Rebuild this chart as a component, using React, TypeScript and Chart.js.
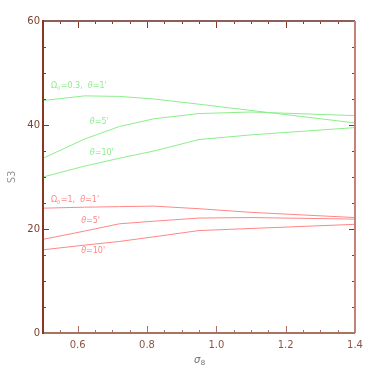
import React, { useEffect, useRef } from "react";
import { Chart, registerables } from "chart.js";

Chart.register(...registerables);

const SIGMA8 = [0.5, 0.62, 0.72, 0.82, 0.95, 1.1, 1.4];
const GREEN_T1 = [44.7, 45.6, 45.5, 45.0, 44.0, 42.8, 40.4];
const GREEN_T5 = [33.6, 37.3, 39.7, 41.2, 42.2, 42.5, 41.8];
const GREEN_T10 = [30.0, 32.1, 33.6, 35.0, 37.2, 38.1, 39.5];
const RED_T1 = [24.0, 24.2, 24.3, 24.4, 23.9, 23.2, 22.2];
const RED_T5 = [18.0, 19.6, 21.0, 21.5, 22.1, 22.2, 21.9];
const RED_T10 = [16.0, 16.9, 17.6, 18.5, 19.7, 20.1, 20.9];

const X_TICKS = [0.6, 0.8, 1.0, 1.2, 1.4];
const Y_TICKS = [0, 20, 40, 60];

const GREEN = "rgb(140,238,140)";
const RED = "rgb(255,135,135)";
const AXIS_LEFT = "rgb(135,55,35)";
const AXIS_BOTTOM = "rgb(170,115,95)";
const AXIS_TOP = "rgb(140,95,95)";
const AXIS_RIGHT = "rgb(195,130,120)";
const TICK_TEXT = "rgb(125,65,50)";

const LABELS: { x: number; y: number; omega: string | null; theta: string; color: string }[] = [
  { x: 0.523, y: 47.6, omega: "0.3", theta: "1'", color: GREEN },
  { x: 0.635, y: 40.6, omega: null, theta: "5'", color: GREEN },
  { x: 0.635, y: 34.6, omega: null, theta: "10'", color: GREEN },
  { x: 0.523, y: 25.6, omega: "1", theta: "1'", color: RED },
  { x: 0.61, y: 21.5, omega: null, theta: "5'", color: RED },
  { x: 0.61, y: 15.7, omega: null, theta: "10'", color: RED },
];

const mk = (ys: number[], color: string) => ({
  data: SIGMA8.map((x, i) => ({ x, y: ys[i] })),
  borderColor: color,
  borderWidth: 1,
  pointRadius: 0,
  fill: false,
  tension: 0,
});

const framePlugin = {
  id: "idlFrame",
  afterDraw(chart: any) {
    const { ctx, chartArea: a, scales } = chart;
    const xs = scales.x;
    const ys = scales.y;
    ctx.save();
    ctx.lineWidth = 1;
    for (let v = 0.5; v <= 1.4001; v += 0.05) {
      const r = Math.round(v * 100) / 100;
      const major = Math.abs(r * 5 - Math.round(r * 5)) < 1e-6;
      const len = major ? 7 : 3;
      const px = Math.round(xs.getPixelForValue(r)) + 0.5;
      ctx.strokeStyle = AXIS_BOTTOM;
      ctx.beginPath();
      ctx.moveTo(px, a.bottom);
      ctx.lineTo(px, a.bottom - len);
      ctx.stroke();
      ctx.strokeStyle = AXIS_LEFT;
      ctx.beginPath();
      ctx.moveTo(px, a.top);
      ctx.lineTo(px, a.top + len);
      ctx.stroke();
    }
    for (let v = 0; v <= 60; v += 5) {
      const major = v % 20 === 0;
      const len = major ? 6 : 3;
      const py = Math.round(ys.getPixelForValue(v)) + 0.5;
      ctx.strokeStyle = AXIS_LEFT;
      ctx.beginPath();
      ctx.moveTo(a.left, py);
      ctx.lineTo(a.left + len, py);
      ctx.moveTo(a.right, py);
      ctx.lineTo(a.right - len, py);
      ctx.stroke();
    }
    ctx.lineWidth = 2;
    const seg = (c: string, x1: number, y1: number, x2: number, y2: number) => {
      ctx.strokeStyle = c;
      ctx.beginPath();
      ctx.moveTo(x1, y1);
      ctx.lineTo(x2, y2);
      ctx.stroke();
    };
    seg(AXIS_TOP, a.left, a.top, a.right, a.top);
    seg(AXIS_RIGHT, a.right, a.top, a.right, a.bottom);
    seg(AXIS_BOTTOM, a.left, a.bottom, a.right, a.bottom);
    seg(AXIS_LEFT, a.left, a.top - 1, a.left, a.bottom + 1);

    ctx.textBaseline = "middle";
    ctx.textAlign = "left";
    for (const l of LABELS) {
      let px = xs.getPixelForValue(l.x);
      const py = ys.getPixelForValue(l.y);
      ctx.fillStyle = l.color;
      const base = "8px 'DejaVu Sans'";
      if (l.omega !== null) {
        ctx.font = base;
        ctx.fillText("\u03A9", px, py);
        px += ctx.measureText("\u03A9").width;
        ctx.font = "5px 'DejaVu Sans'";
        ctx.fillText("0", px, py + 3);
        px += ctx.measureText("0").width + 0.5;
        ctx.font = base;
        const t = "=" + l.omega + ",  ";
        ctx.fillText(t, px, py);
        px += ctx.measureText(t).width;
      }
      ctx.font = "italic 8px 'DejaVu Sans'";
      ctx.fillText("\u03B8", px, py);
      px += ctx.measureText("\u03B8").width;
      ctx.font = base;
      ctx.fillText("=" + l.theta, px, py);
    }

    ctx.fillStyle = "rgb(110,110,110)";
    ctx.font = "italic 10px 'DejaVu Sans'";
    ctx.textAlign = "left";
    const cx = (a.left + a.right) / 2 - 5;
    ctx.fillText("\u03C3", cx, 360);
    const w = ctx.measureText("\u03C3").width;
    ctx.font = "7px 'DejaVu Sans'";
    ctx.fillText("8", cx + w + 0.5, 363);

    ctx.fillStyle = "rgb(150,150,150)";
    ctx.font = "10px 'DejaVu Sans'";
    ctx.textAlign = "center";
    ctx.translate(12, (a.top + a.bottom) / 2);
    ctx.rotate(-Math.PI / 2);
    ctx.fillText("S3", 0, 0);
    ctx.restore();
  },
};

export default function App() {
  const ref = useRef<HTMLCanvasElement | null>(null);
  useEffect(() => {
    if (!ref.current) return;
    const chart = new Chart(ref.current, {
      type: "line",
      data: {
        datasets: [
          mk(GREEN_T1, GREEN),
          mk(GREEN_T5, GREEN),
          mk(GREEN_T10, GREEN),
          mk(RED_T1, RED),
          mk(RED_T5, RED),
          mk(RED_T10, RED),
        ],
      },
      options: {
        animation: false,
        responsive: false,
        layout: { padding: { top: 21, right: 19, left: 0, bottom: 0 } },
        plugins: { legend: { display: false }, tooltip: { enabled: false } },
        scales: {
          x: {
            type: "linear",
            min: 0.5,
            max: 1.4,
            grid: { display: false, drawTicks: false },
            border: { display: false },
            afterBuildTicks: (s: any) => {
              s.ticks = X_TICKS.map((v) => ({ value: v }));
            },
            afterFit: (s: any) => {
              s.height = 41;
            },
            ticks: {
              color: "rgb(140,85,70)",
              font: { family: "'DejaVu Sans'", size: 10 },
              padding: 6,
              maxRotation: 0,
              callback: (v: any) => Number(v).toFixed(1),
            },
          },
          y: {
            min: 0,
            max: 60,
            grid: { display: false, drawTicks: false },
            border: { display: false },
            afterBuildTicks: (s: any) => {
              s.ticks = Y_TICKS.map((v) => ({ value: v }));
            },
            afterFit: (s: any) => {
              s.width = 43;
            },
            ticks: {
              color: TICK_TEXT,
              font: { family: "'DejaVu Sans'", size: 10 },
              padding: 3,
              callback: (v: any) => String(v),
            },
          },
        },
      },
      plugins: [framePlugin],
    });
    return () => chart.destroy();
  }, []);
  return (
    <div style={{ position: "fixed", left: 0, top: 0, width: 374, height: 374, background: "#fff" }}>
      <canvas ref={ref} width={374} height={374} style={{ width: 374, height: 374 }} />
    </div>
  );
}
